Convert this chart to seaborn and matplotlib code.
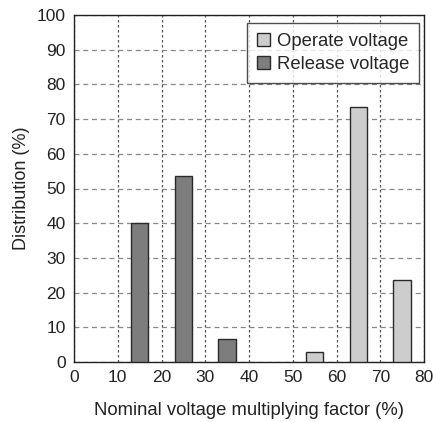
import matplotlib
matplotlib.use("Agg")
import matplotlib.pyplot as plt
import seaborn as sns
import pandas as pd

release_x = [15, 25, 35]
release_vals = [40.0, 53.5, 6.5]
operate_x = [55, 65, 75]
operate_vals = [3.0, 73.5, 23.5]
series_names = ["Operate voltage", "Release voltage"]
x_ticks = [0, 10, 20, 30, 40, 50, 60, 70, 80]
y_ticks = [0, 10, 20, 30, 40, 50, 60, 70, 80, 90, 100]

df = pd.DataFrame({
    "x": operate_x + release_x,
    "value": operate_vals + release_vals,
    "series": [series_names[0]] * len(operate_x) + [series_names[1]] * len(release_x),
})

sns.set_style("white")
plt.rcParams["font.family"] = ["Liberation Sans", "DejaVu Sans"]

fig = plt.figure(figsize=(4.33, 4.22), dpi=100)
ax = fig.add_axes([74 / 433, 60 / 422, 350 / 433, 347 / 422])

palette = {series_names[0]: "#cdcdcd", series_names[1]: "#7d7d7d"}
sns.barplot(data=df, x="x", y="value", hue="series", native_scale=True,
            dodge=False, width=0.40, palette=palette, edgecolor="#2a2a2a",
            linewidth=1.0, ax=ax, zorder=3, hue_order=series_names)

ax.set_xlim(0, 80)
ax.set_ylim(0, 100)
ax.set_xticks(x_ticks)
ax.set_yticks(y_ticks)
ax.tick_params(axis="both", length=0, labelsize=12.5, colors="#222222", pad=6)
ax.xaxis.grid(True, linestyle=(0, (2, 2)), color="#555555", linewidth=0.9)
ax.yaxis.grid(True, linestyle=(0, (4, 3)), color="#888888", linewidth=0.9)
ax.set_axisbelow(True)
for s in ax.spines.values():
    s.set_color("#222222")
    s.set_linewidth(1.0)
ax.set_xlabel("Nominal voltage multiplying factor (%)", fontsize=13.3, color="#222222", labelpad=12)
ax.set_ylabel("Distribution (%)", fontsize=13, color="#222222", labelpad=5)

leg = ax.legend(loc="upper right", fontsize=13.3, frameon=True, fancybox=False,
                edgecolor="#222222", handlelength=0.7, handleheight=0.7,
                handletextpad=0.35, borderpad=0.55, labelspacing=0.3,
                borderaxespad=0, bbox_to_anchor=(0.986, 0.977))
leg.get_frame().set_linewidth(1.0)

fig.savefig("out.png", dpi=100)
